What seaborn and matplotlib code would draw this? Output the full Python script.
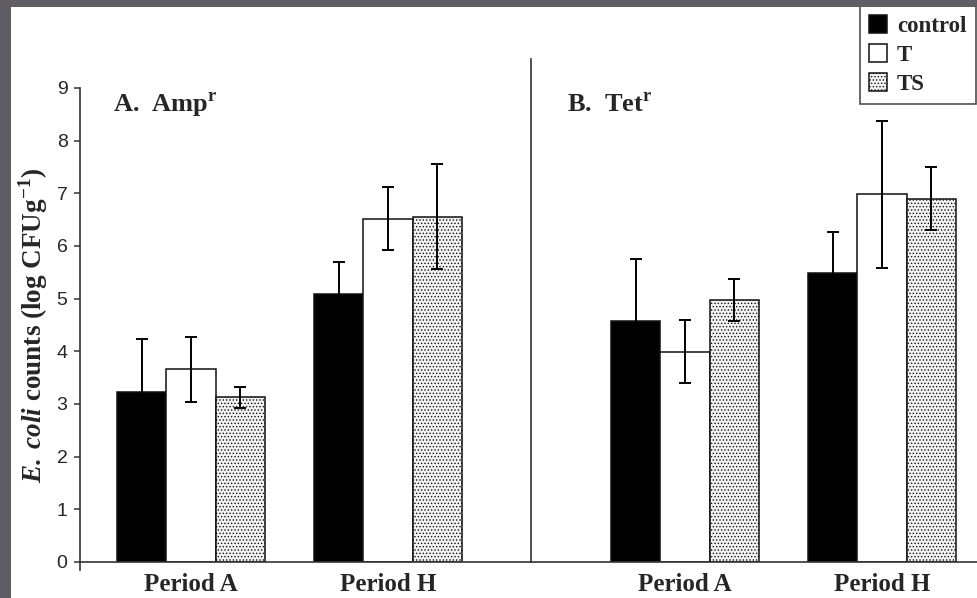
import numpy as np
import pandas as pd
import matplotlib
matplotlib.use('Agg')
import matplotlib.pyplot as plt
import seaborn as sns
from matplotlib.patches import Rectangle

sns.set_style('white')
plt.rcParams['font.family'] = ['Liberation Sans', 'DejaVu Sans']
plt.rcParams['mathtext.fontset'] = 'custom'
plt.rcParams['mathtext.rm'] = 'Liberation Serif:bold'
plt.rcParams['mathtext.bf'] = 'Liberation Serif:bold'
plt.rcParams['mathtext.bfit'] = 'Liberation Serif:bold:italic'
plt.rcParams['hatch.linewidth'] = 0.6

periods = ['Period A', 'Period H']
treatments = ['control', 'T', 'TS']

# Amp^r panel: rows = treatment, cols = period
amp_mean = [[3.23, 5.09], [3.66, 6.52], [3.13, 6.56]]
amp_err = [[1.00, 0.60], [0.62, 0.60], [0.20, 1.00]]
# Tet^r panel
tet_mean = [[4.58, 5.49], [3.99, 6.98], [4.98, 6.90]]
tet_err = [[1.18, 0.78], [0.60, 1.40], [0.40, 0.60]]

panels = [('A.  Amp', amp_mean, amp_err), ('B.  Tet', tet_mean, tet_err)]

serif = ['Liberation Serif', 'DejaVu Serif']
palette = {'control': 'black', 'T': 'white', 'TS': '#f2f2f2'}

fig = plt.figure(figsize=(9.78, 5.98), dpi=100)
ax1 = fig.add_axes([80 / 978, 36 / 598, 451 / 978, 474 / 598])
ax2 = fig.add_axes([531 / 978, 36 / 598, 447 / 978, 474 / 598])
axes = [ax1, ax2]
xlims = [(-0.563, 1.726), (-0.782, 1.487)]
title_x = [0.073, 0.08]

for ax, (title, means, errs), xl, tx in zip(axes, panels, xlims, title_x):
    df = pd.DataFrame({
        'period': [p for t in treatments for p in periods],
        'treatment': [t for t in treatments for p in periods],
        'value': [v for row in means for v in row],
    })
    sns.barplot(data=df, x='period', y='value', hue='treatment',
                order=periods, hue_order=treatments, palette=palette,
                edgecolor='#111111', linewidth=1.1, width=0.75,
                errorbar=None, legend=False, ax=ax, saturation=1)
    for cont, lvl, err_row in zip(ax.containers, treatments, errs):
        if lvl == 'TS':
            for b in cont:
                b.set_hatch('.....')
        xs = [b.get_x() + b.get_width() / 2 for b in cont]
        hs = [b.get_height() for b in cont]
        ax.errorbar(xs, hs, yerr=err_row, fmt='none', ecolor='black',
                    elinewidth=1.4, capsize=4.5, capthick=1.4, zorder=5)
    ax.set_xlim(*xl)
    ax.set_ylim(0, 9)
    ax.set_xlabel('')
    ax.set_ylabel('')
    ax.text(tx, 0.949, title + r'$^{\mathbf{r}}$',
            transform=ax.transAxes, fontsize=19, fontweight='bold',
            family=serif, va='baseline', ha='left')
    for s in ['top', 'right']:
        ax.spines[s].set_visible(False)
    for s in ['left', 'bottom']:
        ax.spines[s].set_color('#333333')
        ax.spines[s].set_linewidth(1.2)
    ax.tick_params(axis='x', length=0, pad=8, labelsize=18)
    for lab in ax.get_xticklabels():
        lab.set_fontfamily(serif)
        lab.set_fontweight('bold')

ax1.set_yticks(range(10))
ax1.tick_params(axis='y', direction='out', length=4, width=1.1,
                color='#333333', labelsize=14, pad=5, left=True)
ax1.spines['left'].set_bounds(-0.15, 9)
ax1.set_ylabel(r'$\mathbfit{E.\,coli}$ counts (log CFUg$^{\mathbf{-1}}$)',
               fontsize=19.5, family=serif, fontweight='bold', labelpad=5)

ax2.set_yticks([])
ax2.spines['left'].set_bounds(0, 9.55)

handles = [cont[0] for cont in ax1.containers]
leg = fig.legend(handles, treatments, loc='upper right',
                 bbox_to_anchor=(976 / 978, 1 - 5 / 598),
                 prop={'family': serif, 'weight': 'bold', 'size': 16.5},
                 frameon=True, fancybox=False, edgecolor='#222222',
                 handlelength=0.75, handleheight=0.85, handletextpad=0.45,
                 labelspacing=0.3, borderpad=0.42, borderaxespad=0)
leg.get_frame().set_linewidth(1.2)

gray = '#605e64'
fig.patches.append(Rectangle((0, 1 - 7 / 598), 1, 7 / 598, transform=fig.transFigure,
                             facecolor=gray, edgecolor='none', zorder=10))
fig.patches.append(Rectangle((0, 0), 11 / 978, 1, transform=fig.transFigure,
                             facecolor=gray, edgecolor='none', zorder=10))

fig.savefig('out.png', dpi=100, facecolor='white')
